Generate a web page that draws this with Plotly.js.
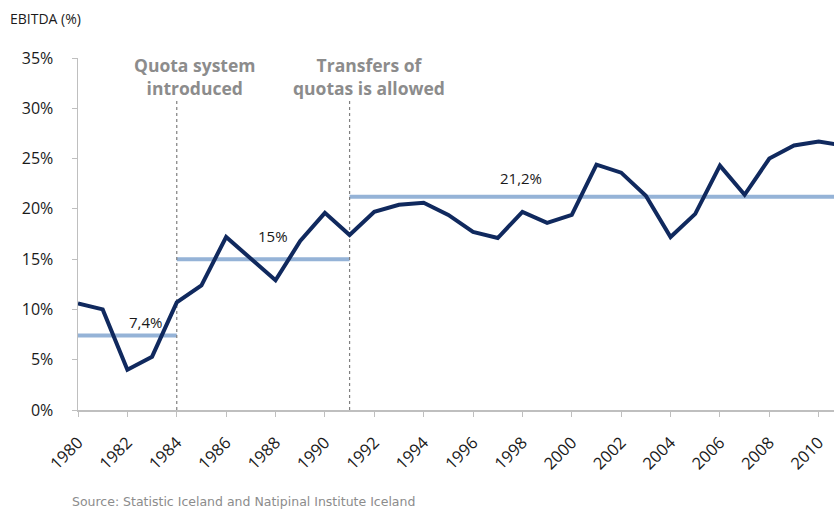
<!DOCTYPE html>
<html><head><meta charset="utf-8">
<script src="https://cdn.plot.ly/plotly-3.0.1.min.js"></script>
<style>html,body{margin:0;padding:0;background:#fff}#chart{width:834px;height:511px}</style>
</head><body><div id="chart"></div>
<script>
const years = [1980,1981,1982,1983,1984,1985,1986,1987,1988,1989,1990,1991,1992,1993,1994,1995,1996,1997,1998,1999,2000,2001,2002,2003,2004,2005,2006,2007,2008,2009,2010,2011];
const ebitda = [10.6,10.0,4.0,5.3,10.7,12.4,17.2,15.0,12.9,16.8,19.6,17.4,19.7,20.4,20.6,19.4,17.7,17.1,19.7,18.6,19.4,24.4,23.6,21.3,17.2,19.5,24.3,21.4,25.0,26.3,26.7,26.3];
const periodStart = [1980,1984,1991];
const periodEnd = [1984,1991,2011];
const periodAvg = [7.4,15.0,21.2];
const periodLabels = ['7,4%','15%','21,2%'];
const eventYears = [1984,1991];
const eventLabels = ['Quota system<br>introduced','Transfers of<br>quotas is allowed'];
const eventLineTop = 30.8;

const traces = [];
for (let i = 0; i < periodAvg.length; i++) {
  traces.push({x:[periodStart[i], periodEnd[i]], y:[periodAvg[i], periodAvg[i]], mode:'lines',
    line:{color:'#95b3d7', width:4}, hoverinfo:'skip', showlegend:false});
}
for (let i = 0; i < eventYears.length; i++) {
  traces.push({x:[eventYears[i], eventYears[i]], y:[0, eventLineTop], mode:'lines',
    line:{color:'#7f7f7f', width:1.2, dash:'dot'}, hoverinfo:'skip', showlegend:false});
}
traces.push({x:years, y:ebitda, mode:'lines', line:{color:'#10295e', width:4, shape:'linear'}, showlegend:false});

const FONT = 'Open Sans, DejaVu Sans, sans-serif';
const labelPos = [[1982.75, 8.75],[1987.9, 17.3],[1997.95, 23.1]];
const annotations = [];
for (let i = 0; i < periodLabels.length; i++) {
  annotations.push({x:labelPos[i][0], y:labelPos[i][1], xref:'x', yref:'y', text:periodLabels[i], showarrow:false,
    font:{family:FONT, size:15, color:'#1a1a1a'}});
}
const eventLabelX = [1984.7, 1991.8];
for (let i = 0; i < eventLabels.length; i++) {
  annotations.push({x:eventLabelX[i], y:1.0, xref:'x', yref:'paper', yanchor:'top', yshift:7, text:'<b>'+eventLabels[i]+'</b>', showarrow:false,
    font:{family:FONT, size:17.5, color:'#8c8c8c'}, align:'center'});
}
annotations.push({x:-0.092, y:1.0, xref:'paper', yref:'paper', yanchor:'middle', xanchor:'left', yshift:40,
  text:'EBITDA (%)', showarrow:false, font:{family:FONT, size:14, color:'#1a1a1a'}});
annotations.push({x:-0.011, y:0, xref:'paper', yref:'paper', xanchor:'left', yanchor:'middle', yshift:-91,
  text:'Source: Statistic Iceland and Natipinal Institute Iceland', showarrow:false,
  font:{family:'DejaVu Sans, sans-serif', size:12.5, color:'#8c8c8c'}});

const layout = {
  width:834, height:511,
  margin:{l:78, r:0, t:58, b:101, pad:0},
  paper_bgcolor:'#fff', plot_bgcolor:'#fff',
  font:{family:FONT, size:16, color:'#1a1a1a'},
  xaxis:{range:[1980, 2010.62], tickmode:'linear', tick0:1980, dtick:2, tickangle:-45,
    showgrid:false, zeroline:false, showline:true, linecolor:'#bfbfbf', linewidth:1.5,
    ticks:'outside', ticklen:5, tickcolor:'#bfbfbf', tickfont:{size:16.5}, ticklabelstandoff:10},
  yaxis:{range:[0,35], dtick:5, ticksuffix:'%', showgrid:false, zeroline:false, showline:true,
    linecolor:'#bfbfbf', linewidth:1.5, ticks:'outside', ticklen:5, tickcolor:'#bfbfbf', tickfont:{size:16}, ticklabelstandoff:15},
  annotations:annotations,
  showlegend:false
};
Plotly.newPlot('chart', traces, layout, {staticPlot:true});
</script></body></html>
